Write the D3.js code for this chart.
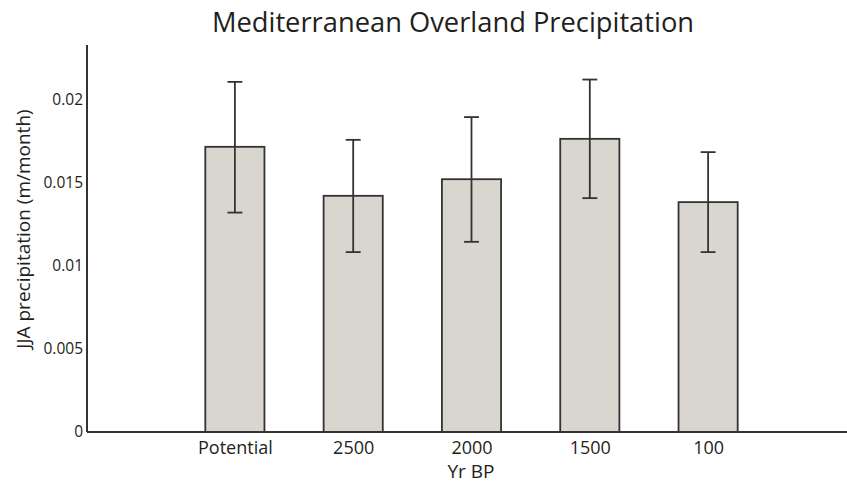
<!DOCTYPE html>
<html>
<head>
<meta charset="utf-8">
<script src="https://cdn.jsdelivr.net/npm/d3@7"></script>
<style>
  body { margin: 0; background: #fff; }
  text { font-family: "Open Sans", sans-serif; fill: #231f20; }
</style>
</head>
<body>
<div id="chart"></div>
<script>
// values
const periods = ["Potential", "2500", "2000", "1500", "100"];
const precip = [0.01717, 0.01422, 0.01522, 0.01765, 0.01384];
const errHigh = [0.02108, 0.01759, 0.01896, 0.02122, 0.01685];
const errLow = [0.01321, 0.01083, 0.01145, 0.01408, 0.01083];
const yTicks = [0, 0.005, 0.01, 0.015, 0.02];

const width = 847, height = 483;
const margin = {top: 45, right: 0, bottom: 51, left: 87};

const svg = d3.select("#chart")
    .append("svg")
    .attr("width", width)
    .attr("height", height);

// bars sit at positions 1..5 on a -0.25..6.25 axis
const xScale = d3.scaleLinear()
    .domain([-0.25, 6.25])
    .range([margin.left, 856]);

const yScale = d3.scaleLinear()
    .domain([0, 0.0233])
    .range([height - margin.bottom, margin.top]);

const barW = 0.5;
const ink = "#333";

// bars
svg.selectAll("rect.bar")
    .data(precip)
    .enter()
    .append("rect")
    .attr("class", "bar")
    .attr("x", (d, i) => xScale(i + 1 - barW / 2))
    .attr("width", xScale(barW) - xScale(0))
    .attr("y", (d) => yScale(d))
    .attr("height", (d) => yScale(0) - yScale(d))
    .attr("fill", "#d9d5cf")
    .attr("stroke", ink)
    .attr("stroke-width", 1.8);

// error bars
const capW = 0.063;
const eb = svg.append("g").attr("stroke", ink).attr("stroke-width", 1.8);
periods.forEach((p, i) => {
    const cx = xScale(i + 1);
    eb.append("line")
        .attr("x1", cx).attr("x2", cx)
        .attr("y1", yScale(errHigh[i])).attr("y2", yScale(errLow[i]));
    [errHigh[i], errLow[i]].forEach((v) => {
        eb.append("line")
            .attr("x1", xScale(i + 1 - capW)).attr("x2", xScale(i + 1 + capW))
            .attr("y1", yScale(v)).attr("y2", yScale(v));
    });
});

// y axis
const yAxis = svg.append("g")
    .attr("transform", `translate(${margin.left},0)`)
    .call(d3.axisLeft(yScale).tickValues(yTicks).tickSize(0).tickPadding(4)
        .tickFormat((d) => d3.format("")(+d.toFixed(3))));
yAxis.select(".domain").attr("stroke", ink).attr("stroke-width", 2)
    .attr("d", `M0,${yScale(0)}V${margin.top}`);
yAxis.selectAll("text").attr("font-size", 15.5).attr("font-family", "Open Sans, sans-serif").attr("fill", "#231f20");

// x axis
const xAxis = svg.append("g")
    .attr("transform", `translate(0,${yScale(0)})`)
    .call(d3.axisBottom(xScale).tickValues([1, 2, 3, 4, 5]).tickSize(0).tickPadding(9)
        .tickFormat((d) => periods[d - 1]));
xAxis.select(".domain").attr("stroke", ink).attr("stroke-width", 2)
    .attr("d", `M${margin.left},0H${width}`);
xAxis.selectAll("text").attr("font-size", 18).attr("font-family", "Open Sans, sans-serif").attr("fill", "#231f20");

// titles
svg.append("text")
    .attr("x", 453)
    .attr("y", 32)
    .attr("text-anchor", "middle")
    .attr("font-size", 27.3)
    .text("Mediterranean Overland Precipitation");

svg.append("text")
    .attr("x", 471)
    .attr("y", 478)
    .attr("text-anchor", "middle")
    .attr("font-size", 19)
    .text("Yr BP");

svg.append("text")
    .attr("transform", "translate(30,229) rotate(-90)")
    .attr("text-anchor", "middle")
    .attr("font-size", 19)
    .text("JJA precipitation (m/month)");
</script>
</body>
</html>
